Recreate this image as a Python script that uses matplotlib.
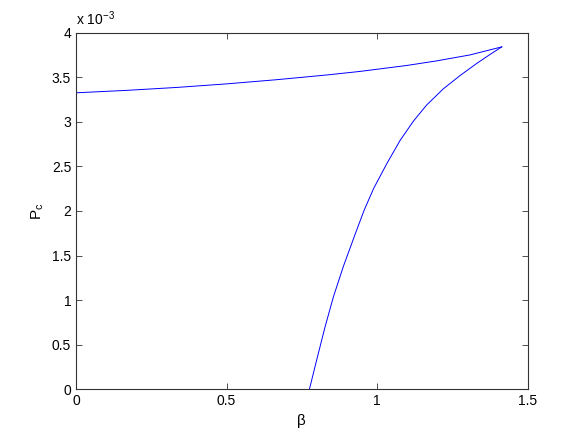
import matplotlib
matplotlib.use("Agg")
import matplotlib.pyplot as plt

plt.rcParams['font.family'] = ['Liberation Sans', 'DejaVu Sans']
plt.rcParams['mathtext.fontset'] = 'custom'
plt.rcParams['mathtext.rm'] = 'Liberation Sans'

# upper branch (beta, Pc in units of 1e-3)
beta_upper = [0.0, 0.167, 0.334, 0.5, 0.667, 0.833, 0.944, 1.1, 1.198, 1.309, 1.414]
pc_upper = [3.325, 3.352, 3.385, 3.425, 3.472, 3.525, 3.565, 3.632, 3.683, 3.75, 3.84]

# lower branch
beta_lower = [0.775, 0.800, 0.827, 0.855, 0.888, 0.927, 0.957, 0.988, 1.032,
              1.076, 1.121, 1.165, 1.220, 1.276, 1.331, 1.375, 1.414]
pc_lower = [0.0, 0.34, 0.70, 1.04, 1.38, 1.74, 2.01, 2.25, 2.53,
            2.79, 3.01, 3.19, 3.37, 3.52, 3.655, 3.755, 3.84]

xticks = [0, 0.5, 1, 1.5]
yticks = [0, 0.5, 1, 1.5, 2, 2.5, 3, 3.5, 4]

fig = plt.figure(figsize=(5.82, 4.38), dpi=100)
ax = fig.add_axes([0.1306, 0.111, 0.7761, 0.8146])

ax.plot(beta_upper, pc_upper, color='#0000ff', lw=0.7)
ax.plot(beta_lower, pc_lower, color='#0000ff', lw=0.7)

ax.set_xlim(0, 1.5)
ax.set_ylim(0, 4)
ax.set_xticks(xticks)
ax.set_xticklabels(['0', '0.5', '1', '1.5'])
ax.set_yticks(yticks)
ax.set_yticklabels(['0', '0.5', '1', '1.5', '2', '2.5', '3', '3.5', '4'])
ax.tick_params(direction='in', top=True, right=True, length=4, width=0.6,
               labelsize=10, color='#333333')
for s in ax.spines.values():
    s.set_linewidth(0.8)
    s.set_color('#333333')

ax.text(0.0, 1.012, r'x 10$^{-3}$', transform=ax.transAxes, fontsize=10,
        ha='left', va='bottom')
ax.set_xlabel('β', fontsize=11)
ax.set_ylabel(r'P$_{\mathrm{c}}$', fontsize=11)

fig.savefig('out.png', dpi=100)
